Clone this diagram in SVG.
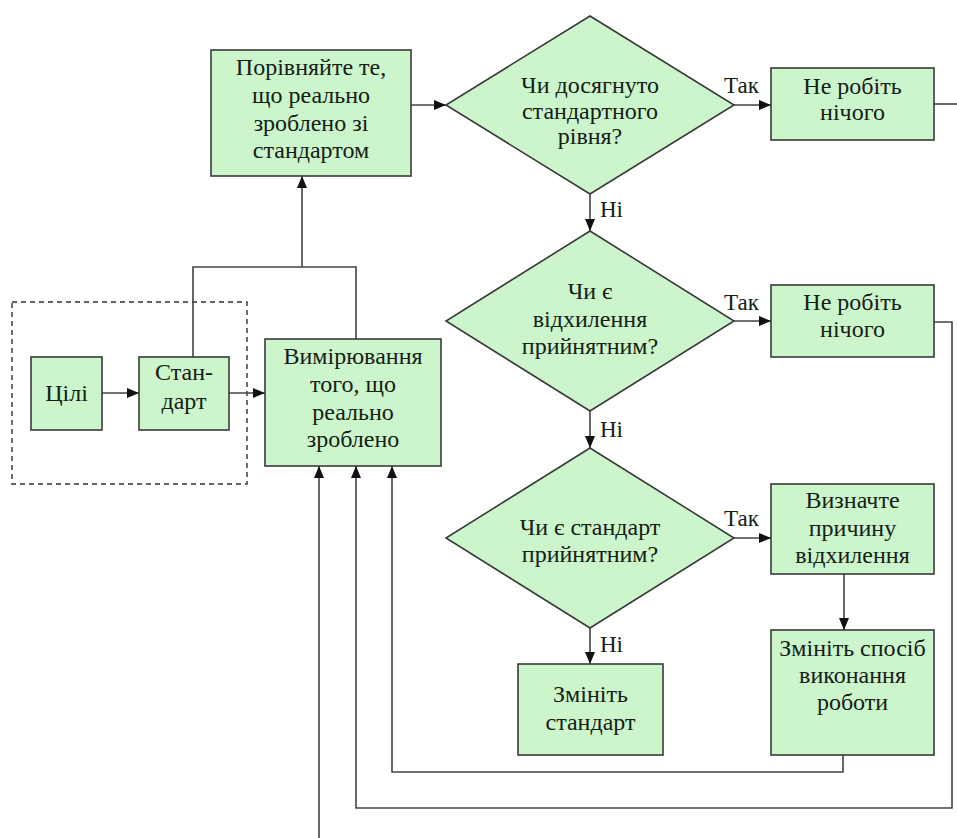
<svg xmlns="http://www.w3.org/2000/svg" width="957" height="838" viewBox="0 0 957 838" font-family="Liberation Serif, Tinos, DejaVu Serif, serif">
<style>
.n{fill:#ccf5cc;stroke:#3a3a3a;stroke-width:1.6}
.t{font-family:'Liberation Serif',Tinos,'DejaVu Serif',serif;font-size:24px;fill:#142014;text-anchor:middle}
.l{font-family:'Liberation Serif',Tinos,'DejaVu Serif',serif;font-size:23px;fill:#142014}
.c{fill:none;stroke:#444;stroke-width:1.6}
</style>
<defs>
<marker id="a" markerUnits="userSpaceOnUse" markerWidth="13" markerHeight="11" refX="12" refY="5.5" orient="auto">
<path d="M0,0.5 L12,5.5 L0,10.5 z" fill="#111"/>
</marker>
</defs>
<rect x="0" y="0" width="957" height="838" fill="#fff"/>
<rect x="12" y="302" width="235" height="182" fill="none" stroke="#333" stroke-width="1.4" stroke-dasharray="5,4"/>
<g id="connectors">
<path class="c" d="M102,393 H139" marker-end="url(#a)"/>
<path class="c" d="M229,393 H265" marker-end="url(#a)"/>
<path class="c" d="M193,357 V267 H356 V339"/>
<path class="c" d="M302,267 V176" marker-end="url(#a)"/>
<path class="c" d="M411,105 H446" marker-end="url(#a)"/>
<path class="c" d="M734,105 H771" marker-end="url(#a)"/>
<path class="c" d="M934,104 H957"/>
<path class="c" d="M590,194 V231" marker-end="url(#a)"/>
<path class="c" d="M734,321 H771" marker-end="url(#a)"/>
<path class="c" d="M934,322 H952 V808 H356 V466" marker-end="url(#a)"/>
<path class="c" d="M590,411 V448" marker-end="url(#a)"/>
<path class="c" d="M734,538 H771" marker-end="url(#a)"/>
<path class="c" d="M590,628 V664" marker-end="url(#a)"/>
<path class="c" d="M844,574 V630" marker-end="url(#a)"/>
<path class="c" d="M843,755 V772 H392 V466" marker-end="url(#a)"/>
<path class="c" d="M319,838 V466" marker-end="url(#a)"/>
<text class="l" x="724" y="93">Так</text>
<text class="l" x="724" y="310">Так</text>
<text class="l" x="724" y="526">Так</text>
<text class="l" x="600" y="217">Ні</text>
<text class="l" x="600" y="437">Ні</text>
<text class="l" x="600" y="652">Ні</text>
</g>
<g id="goals">
<rect class="n" x="31" y="357" width="71" height="73"/>
<text class="t" x="66.5" y="401">Цілі</text>
</g>
<g id="standard">
<rect class="n" x="139" y="357" width="90" height="73"/>
<text class="t" x="184" y="380">Стан-</text>
<text class="t" x="184" y="409">дарт</text>
</g>
<g id="measure">
<rect class="n" x="265" y="339" width="176" height="127"/>
<text class="t" x="353" y="364">Вимірювання</text>
<text class="t" x="353" y="392">того, що</text>
<text class="t" x="353" y="420">реально</text>
<text class="t" x="353" y="447">зроблено</text>
</g>
<g id="compare">
<rect class="n" x="211" y="50" width="200" height="126"/>
<text class="t" x="311" y="75">Порівняйте те,</text>
<text class="t" x="311" y="103">що реально</text>
<text class="t" x="311" y="131">зроблено зі</text>
<text class="t" x="311" y="158">стандартом</text>
</g>
<g id="decision1">
<polygon class="n" points="590,16 734,105 590,194 446,105"/>
<text class="t" x="590" y="93">Чи досягнуто</text>
<text class="t" x="590" y="119">стандартного</text>
<text class="t" x="590" y="144">рівня?</text>
</g>
<g id="nothing1">
<rect class="n" x="771" y="68" width="163" height="72"/>
<text class="t" x="852.5" y="94">Не робіть</text>
<text class="t" x="852.5" y="120">нічого</text>
</g>
<g id="decision2">
<polygon class="n" points="590,231 734,321 590,411 446,321"/>
<text class="t" x="590" y="299">Чи є</text>
<text class="t" x="590" y="327">відхилення</text>
<text class="t" x="590" y="354">прийнятним?</text>
</g>
<g id="nothing2">
<rect class="n" x="771" y="285" width="163" height="72"/>
<text class="t" x="852.5" y="310">Не робіть</text>
<text class="t" x="852.5" y="337">нічого</text>
</g>
<g id="decision3">
<polygon class="n" points="590,448 734,538 590,628 446,538"/>
<text class="t" x="590" y="535">Чи є стандарт</text>
<text class="t" x="590" y="562">прийнятним?</text>
</g>
<g id="cause">
<rect class="n" x="771" y="484" width="163" height="90"/>
<text class="t" x="852.5" y="508">Визначте</text>
<text class="t" x="852.5" y="536">причину</text>
<text class="t" x="852.5" y="563">відхилення</text>
</g>
<g id="changework">
<rect class="n" x="771" y="630" width="163" height="125"/>
<text class="t" x="852.5" y="656">Змініть спосіб</text>
<text class="t" x="852.5" y="683">виконання</text>
<text class="t" x="852.5" y="710">роботи</text>
</g>
<g id="changestd">
<rect class="n" x="518" y="664" width="145" height="91"/>
<text class="t" x="590.5" y="702">Змініть</text>
<text class="t" x="590.5" y="730">стандарт</text>
</g>
</svg>
